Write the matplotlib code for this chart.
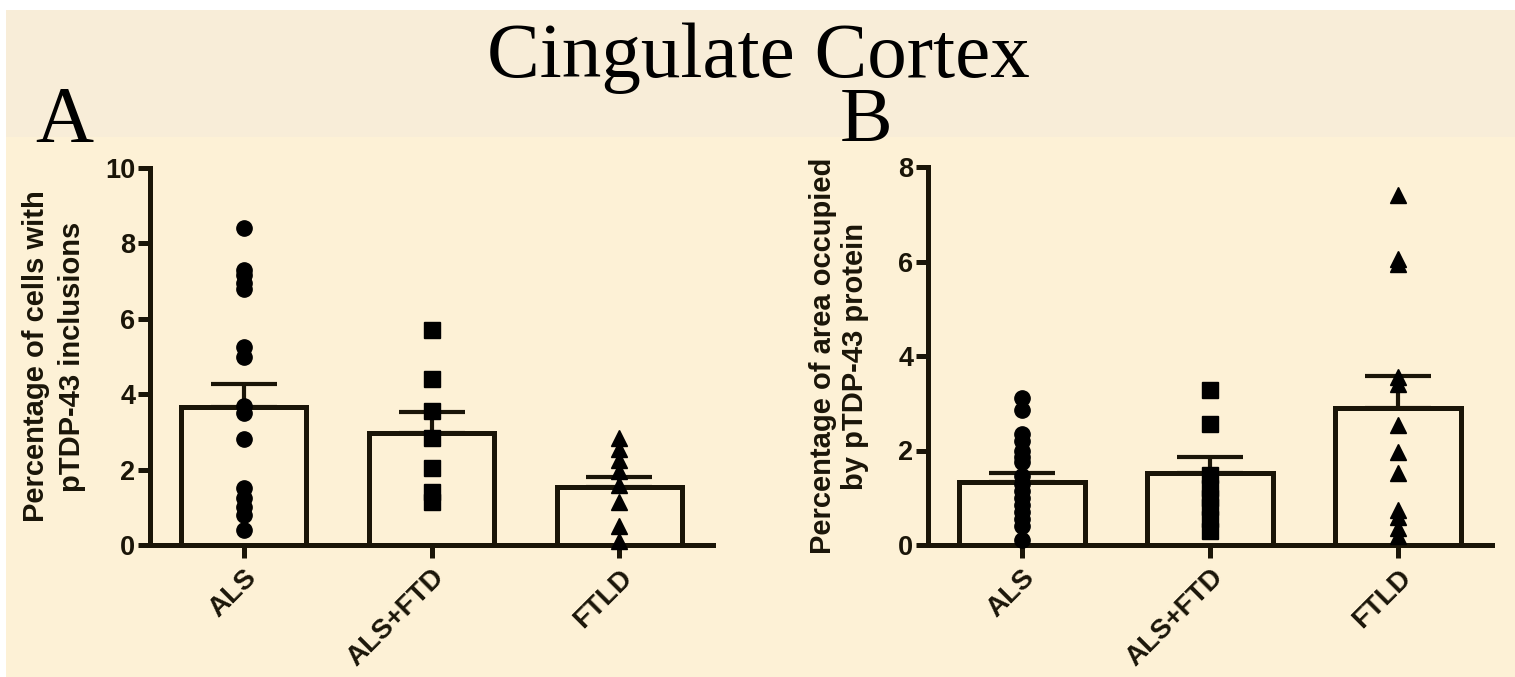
import numpy as np
import matplotlib.pyplot as plt
from matplotlib.patches import Rectangle

groups = ["ALS", "ALS+FTD", "FTLD"]

# Panel A: percentage of cells with pTDP-43 inclusions
cells_als = [8.4, 7.3, 7.15, 6.95, 6.8, 5.25, 5.0, 3.7, 3.5, 2.8, 1.5, 1.25, 1.0, 0.8, 0.4]
cells_alsftd = [5.7, 4.4, 3.55, 2.85, 2.05, 1.4, 1.15]
cells_ftld = [2.85, 2.55, 2.25, 1.95, 1.6, 1.15, 0.5, 0.1]
cells_mean = [3.65, 2.98, 1.55]
cells_sem = [0.61, 0.56, 0.25]

# Panel B: percentage of area occupied by pTDP-43 protein
area_als = [3.12, 2.85, 2.35, 2.2, 2.0, 1.87, 1.75, 1.45, 1.3, 1.15, 1.0, 0.85, 0.7, 0.55, 0.4, 0.1]
area_alsftd = [3.28, 2.57, 1.48, 1.2, 1.0, 0.8, 0.55, 0.3]
area_ftld = [7.4, 6.05, 5.95, 3.55, 3.4, 2.55, 1.97, 1.52, 0.75, 0.6, 0.35, 0.2]
area_mean = [1.34, 1.53, 2.89]
area_sem = [0.18, 0.34, 0.69]

markers = ["o", "s", "^"]
ink = "#1a1508"
bg_top = "#f8edd8"
bg_main = "#fdf1d6"

plt.rcParams["font.family"] = ["Liberation Sans", "DejaVu Sans"]

fig = plt.figure(figsize=(15.15, 6.77), dpi=100, facecolor="white")

# cream backdrop, slightly paler band behind the title
fig.patches.append(Rectangle((6 / 1515, 0), 1, 1 - 137 / 677, transform=fig.transFigure,
                             facecolor=bg_main, edgecolor="none", zorder=-10))
fig.patches.append(Rectangle((6 / 1515, 1 - 137 / 677), 1, (137 - 10) / 677,
                             transform=fig.transFigure, facecolor=bg_top,
                             edgecolor="none", zorder=-10))


def scatter_bar(ax, points, means, sems, ymax, ylabel, spacing):
    x = np.arange(len(groups))
    ax.bar(x, means, width=0.665, facecolor="none", edgecolor=ink, linewidth=3.6, zorder=2)
    ax.errorbar(x, means, yerr=[np.zeros(len(sems)), sems], fmt="none", ecolor=ink,
                elinewidth=3.0, capsize=24, capthick=3.0, zorder=3)
    for i, vals in enumerate(points):
        ax.plot(np.full(len(vals), x[i]), vals, linestyle="none", marker=markers[i],
                markersize=11 if markers[i] != "^" else 12, color="black", zorder=4,
                clip_on=False)
    ax.set_xlim(-0.5, 2.5)
    ax.set_ylim(0, ymax)
    ax.set_yticks(np.arange(0, ymax + 1, 2))
    ax.set_xticks(x)
    ax.set_xticklabels(groups, rotation=45, ha="right", rotation_mode="anchor",
                       fontsize=20, fontweight="bold", color=ink)
    for lab in ax.get_yticklabels():
        lab.set_fontsize(19.5)
        lab.set_fontweight("bold")
        lab.set_color(ink)
    ax.tick_params(axis="both", length=9, width=3.6, color=ink, pad=1.5)
    ax.tick_params(axis="x", pad=5)
    for side in ["top", "right"]:
        ax.spines[side].set_visible(False)
    for side in ["left", "bottom"]:
        ax.spines[side].set_linewidth(3.6)
        ax.spines[side].set_color(ink)
    ax.set_facecolor("none")
    ax.set_ylabel(ylabel, fontsize=21, fontweight="bold", color=ink, linespacing=spacing)


ax1 = fig.add_axes([150 / 1515, 132 / 677, 563 / 1515, 377 / 677])
scatter_bar(ax1, [cells_als, cells_alsftd, cells_ftld], cells_mean, cells_sem, 10,
            "Percentage of cells with\npTDP-43 inclusions", 1.35)
ax1.yaxis.set_label_coords(-0.114, 0.5)

ax2 = fig.add_axes([928 / 1515, 132 / 677, 564 / 1515, 378 / 677])
scatter_bar(ax2, [area_als, area_alsftd, area_ftld], area_mean, area_sem, 8,
            "Percentage of area occupied\nby pTDP-43 protein", 1.15)
ax2.yaxis.set_label_coords(-0.105, 0.5)

serif = ["Liberation Serif", "DejaVu Serif"]
fig.text(758 / 1515, 1 - 77 / 677, "Cingulate Cortex", family=serif, fontsize=57,
         ha="center", va="baseline", color="black")
fig.text(35 / 1515, 1 - 142 / 677, "A", family=serif, fontsize=58, ha="left",
         va="baseline", color="black")
fig.text(840 / 1515, 1 - 141 / 677, "B", family=serif, fontsize=57, ha="left",
         va="baseline", color="black")

fig.savefig("out.png", dpi=100, facecolor=fig.get_facecolor())
